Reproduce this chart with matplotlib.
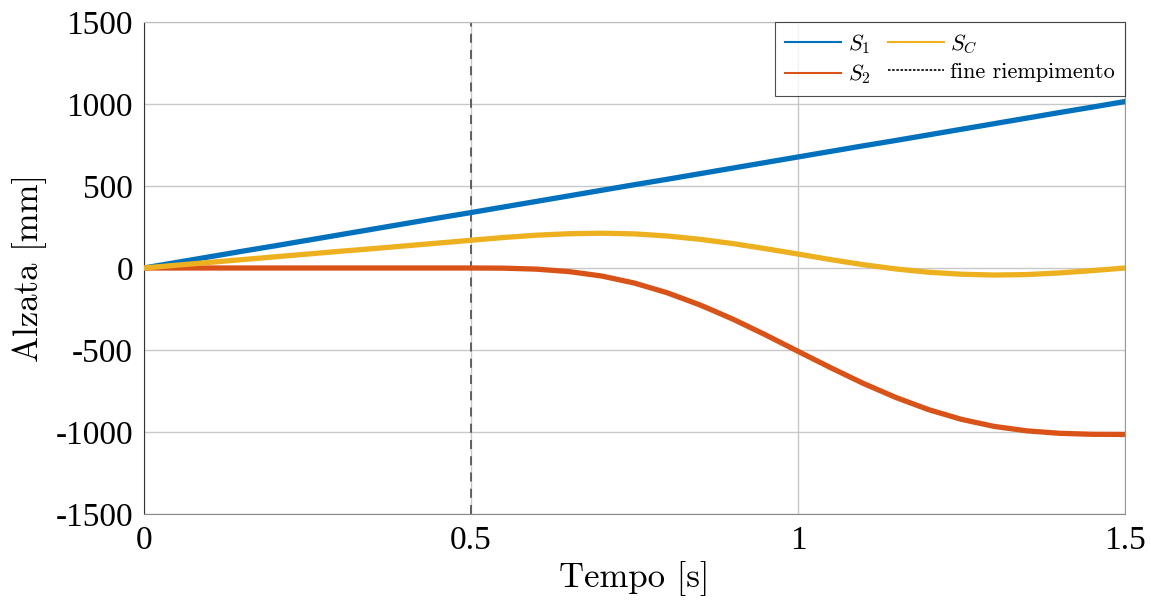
import numpy as np
import matplotlib.pyplot as plt
from matplotlib.lines import Line2D

# Tempo [s] e alzate [mm]
t = [0.00, 0.05, 0.10, 0.15, 0.20, 0.25, 0.30, 0.35, 0.40, 0.45,
     0.50, 0.55, 0.60, 0.65, 0.70, 0.75, 0.80, 0.85, 0.90, 0.95,
     1.00, 1.05, 1.10, 1.15, 1.20, 1.25, 1.30, 1.35, 1.40, 1.45, 1.50]
s1 = [0, 34, 68, 102, 135, 169, 203, 237, 271, 305,
      338, 372, 406, 440, 474, 508, 541, 575, 609, 643,
      677, 711, 745, 778, 812, 846, 880, 914, 948, 981, 1015]
s2 = [0, 0, 0, 0, 0, 0, 0, 0, 0, 0,
      0, -1, -7, -22, -49, -92, -151, -225, -311, -407,
      -508, -608, -704, -790, -864, -923, -966, -993, -1008, -1014, -1015]
sc = [0, 17, 34, 51, 68, 85, 102, 118, 135, 152,
      169, 186, 200, 209, 212, 208, 195, 175, 149, 118,
      85, 51, 20, -6, -26, -38, -43, -40, -30, -16, 0]
t_fill = 0.5

xticks = [0, 0.5, 1, 1.5]
xtick_labels = ["0", "0.5", "1", "1.5"]
yticks = [-1500, -1000, -500, 0, 500, 1000, 1500]
ytick_labels = ["-1500", "-1000", "-500", "0", "500", "1000", "1500"]

plt.rcParams["mathtext.fontset"] = "cm"

fig = plt.figure(figsize=(11.51, 6.04), dpi=100)
ax = fig.add_axes([0.1251, 0.149, 0.8523, 0.8146])

ax.grid(True, color="#c8c8c8", linewidth=1.0)
ax.set_axisbelow(True)
ax.axvline(t_fill, color="#555555", linestyle=(0, (5, 4)), linewidth=1.3, zorder=2)

blu, rosso, giallo = "#0072BD", "#D95319", "#EDB120"
ax.plot(t, s1, color=blu, linewidth=3.8, zorder=3, solid_joinstyle="round")
ax.plot(t, s2, color=rosso, linewidth=3.8, zorder=3, solid_joinstyle="round")
ax.plot(t, sc, color=giallo, linewidth=3.8, zorder=3, solid_joinstyle="round")

ax.set_xlim(0, 1.5)
ax.set_ylim(-1500, 1500)
ax.set_xticks(xticks)
ax.set_xticklabels(xtick_labels)
ax.set_yticks(yticks)
ax.set_yticklabels(ytick_labels)
ax.tick_params(length=0, labelsize=24, pad=8)
for lab in ax.get_xticklabels() + ax.get_yticklabels():
    lab.set_fontfamily("Liberation Serif")

ax.spines["left"].set_color("#333333")
ax.spines["bottom"].set_color("#888888")
ax.spines["right"].set_color("#999999")
ax.spines["top"].set_color("#bbbbbb")

ax.set_xlabel("Tempo [s]", fontsize=25, family="cmr10", labelpad=4)
ax.set_ylabel("Alzata [mm]", fontsize=25, family="cmr10", labelpad=6)

handles = [
    Line2D([], [], color=blu, linewidth=1.5),
    Line2D([], [], color=rosso, linewidth=1.5),
    Line2D([], [], color=giallo, linewidth=1.5),
    Line2D([], [], color="black", linestyle=(0, (1.5, 1)), linewidth=1.2),
]
labels = [r"$S_1$", r"$S_2$", r"$S_C$", "fine riempimento"]
leg = ax.legend(handles, labels, ncol=2, loc="upper right",
                bbox_to_anchor=(1.0, 1.0),
                prop={"family": "cmr10", "size": 16},
                frameon=True, fancybox=False, edgecolor="#222222",
                borderaxespad=0, handlelength=2.5, handletextpad=0.3,
                columnspacing=0.8, labelspacing=0.3, borderpad=0.45)
leg.get_frame().set_linewidth(0.8)

fig.savefig("out.png", dpi=100)
